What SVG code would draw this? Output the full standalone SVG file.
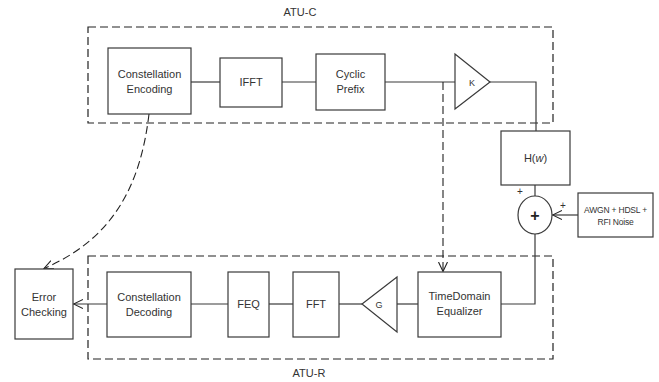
<svg xmlns="http://www.w3.org/2000/svg" width="659" height="382" viewBox="0 0 659 382">
  <defs>
    <style>
      .box { fill: #fff; stroke: #3a3a3a; stroke-width: 1.2; }
      .frame { fill: none; stroke: #222; stroke-width: 1.2; stroke-dasharray: 8 4; }
      .wire { fill: none; stroke: #3a3a3a; stroke-width: 1.2; }
      .dash { fill: none; stroke: #222; stroke-width: 1.1; stroke-dasharray: 8 4; }
      text { font-family: "Liberation Sans", Arial, sans-serif; font-size: 11px; fill: #333; text-anchor: middle; }
      .small { font-size: 8.5px; }
      .sign { font-size: 10px; }
      .gain { font-size: 9px; }
    </style>
    <marker id="vee" viewBox="0 0 10 10" refX="9.5" refY="5" markerWidth="10" markerHeight="10" markerUnits="userSpaceOnUse" orient="auto">
      <path d="M0,0.5 L9.5,5 L0,9.5" fill="none" stroke="#222" stroke-width="1.1"/>
    </marker>
  </defs>

  <!-- modem frames -->
  <g id="atu-c">
    <rect class="frame" x="88" y="27" width="465" height="96"/>
    <text x="300" y="16">ATU-C</text>
  </g>
  <g id="atu-r">
    <rect class="frame" x="88" y="256" width="465" height="103"/>
    <text x="309" y="377">ATU-R</text>
  </g>

  <!-- signal paths -->
  <g id="connectors">
    <line class="wire" x1="191" y1="82" x2="220" y2="82"/>
    <line class="wire" x1="282" y1="82" x2="316" y2="82"/>
    <line class="wire" x1="385" y1="82" x2="455" y2="82"/>
    <polyline class="wire" points="490,82 536,82 536,131"/>
    <line class="wire" x1="535" y1="185" x2="535" y2="196"/>
    <line class="wire" x1="578" y1="215" x2="552.5" y2="215" marker-end="url(#vee)"/>
    <polyline class="wire" points="535,234 535,304 501,304"/>
    <line class="wire" x1="418" y1="304" x2="397" y2="304"/>
    <line class="wire" x1="362" y1="304" x2="339" y2="304"/>
    <line class="wire" x1="293" y1="304" x2="269" y2="304"/>
    <line class="wire" x1="228" y1="304" x2="191" y2="304"/>
    <line class="wire" x1="107" y1="304" x2="73.5" y2="304" marker-end="url(#vee)"/>
    <line class="dash" x1="443" y1="82" x2="443" y2="271.5" marker-end="url(#vee)"/>
    <path class="dash" d="M149,114 C140,190 110,240 44,268.5" marker-end="url(#vee)"/>
  </g>

  <!-- transmitter blocks -->
  <g id="constellation-encoding">
    <rect class="box" x="108" y="48" width="83" height="66"/>
    <text x="149.5" y="78">Constellation</text>
    <text x="149.5" y="93">Encoding</text>
  </g>
  <g id="ifft">
    <rect class="box" x="220" y="58" width="62" height="49"/>
    <text x="251" y="86">IFFT</text>
  </g>
  <g id="cyclic-prefix">
    <rect class="box" x="316" y="54" width="69" height="56"/>
    <text x="350.5" y="78">Cyclic</text>
    <text x="350.5" y="93">Prefix</text>
  </g>
  <g id="gain-k">
    <polygon class="box" points="455,54 490,82 455,109"/>
    <text class="gain" x="472" y="85.5">K</text>
  </g>

  <!-- channel -->
  <g id="channel">
    <rect class="box" x="501" y="131" width="69" height="54"/>
    <text x="535.5" y="162">H(<tspan font-style="italic">w</tspan>)</text>
  </g>
  <g id="adder">
    <ellipse class="box" cx="535" cy="215" rx="17" ry="19"/>
    <text x="535" y="220.5" style="font-size:16px;font-weight:bold;fill:#222">+</text>
    <text class="sign" x="520" y="195">+</text>
    <text class="sign" x="563" y="209">+</text>
  </g>
  <g id="noise">
    <rect class="box" x="578" y="193" width="75" height="44"/>
    <text class="small" x="615.5" y="213" letter-spacing="-0.2">AWGN + HDSL +</text>
    <text class="small" x="615.5" y="225" letter-spacing="-0.2">RFI Noise</text>
  </g>

  <!-- receiver blocks -->
  <g id="time-domain-equalizer">
    <rect class="box" x="418" y="272" width="83" height="65"/>
    <text x="459.5" y="300">TimeDomain</text>
    <text x="459.5" y="315">Equalizer</text>
  </g>
  <g id="gain-g">
    <polygon class="box" points="397,277 362,304 397,332"/>
    <text class="gain" x="379" y="307.5">G</text>
  </g>
  <g id="fft">
    <rect class="box" x="293" y="272" width="46" height="65"/>
    <text x="316" y="308">FFT</text>
  </g>
  <g id="feq">
    <rect class="box" x="228" y="272" width="41" height="65"/>
    <text x="248.5" y="308">FEQ</text>
  </g>
  <g id="constellation-decoding">
    <rect class="box" x="107" y="272" width="84" height="65"/>
    <text x="149" y="300.5">Constellation</text>
    <text x="149" y="315.5">Decoding</text>
  </g>
  <g id="error-checking">
    <rect class="box" x="15" y="269" width="58" height="70"/>
    <text x="44" y="300.5">Error</text>
    <text x="44" y="316">Checking</text>
  </g>
</svg>
